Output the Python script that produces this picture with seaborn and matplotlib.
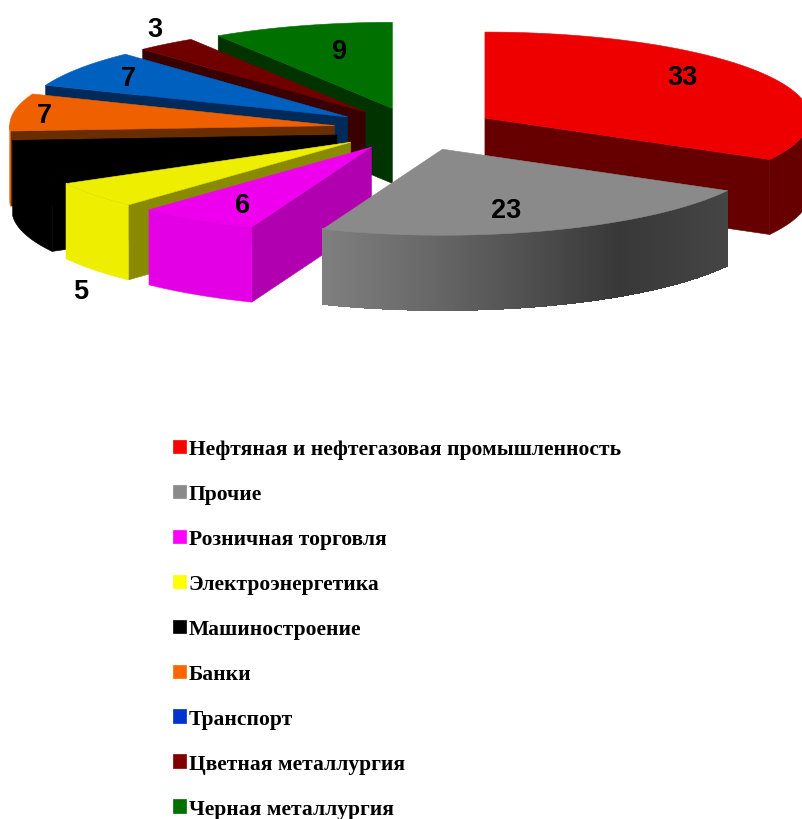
import seaborn as sns
import matplotlib.pyplot as plt
import numpy as np
from matplotlib.patches import Patch, Polygon

labels = ['Нефтяная и нефтегазовая промышленность', 'Прочие', 'Розничная торговля',
          'Электроэнергетика', 'Машиностроение', 'Банки', 'Транспорт',
          'Цветная металлургия', 'Черная металлургия']
values = [33, 23, 6, 5, 7, 7, 7, 3, 9]
top_colors = ['#ee0000', '#8a8a8a', '#ee00ee', '#eeee00', '#000000', '#ee6000', '#0060c0', '#700000', '#007000']
rim_colors = ['#660000', '#666666', '#e400e4', '#eeee00', '#000000', '#e86800', '#002a5a', '#380000', '#003300']
cut_colors = ['#660000', '#666666', '#b000b0', '#8a8a00', '#000000', '#6a2d00', '#002a5a', '#380000', '#003300']
legend_colors = ['#ff0000', '#8a8a8a', '#ff00ff', '#ffff00', '#000000', '#ff6600', '#0033cc', '#800000', '#007000']

# pie geometry, in picture pixels
cx, cy = 415, 130
rx, ry = 325, 86
depth = 75
explode = 0.25

# (x, y) of the number on each slice, black one had no visible label
label_xy = [(682, 78), (506, 211), (243, 206), (81, 292), None, (44, 116), (128, 79), (155, 30), (340, 52)]

sns.set_style('white')
fig = plt.figure(figsize=(8.03, 8.2), dpi=100)
ax = fig.add_axes([0, 0, 1, 1])
ax.set_xlim(0, 803)
ax.set_ylim(820, 0)
ax.axis('off')


def arc(apex, t0, t1, n=80):
    t = np.radians(np.linspace(t0, t1, n))
    return apex[0] + rx * np.sin(t), apex[1] - ry * np.cos(t)


def face(xs, ys, color, z, aa=True):
    ax.add_patch(Polygon(np.column_stack([xs, ys]), closed=True, fc=color, ec=color, lw=0.4, zorder=z, antialiased=aa))


ends = np.cumsum(values) / np.sum(values) * 360
starts = np.r_[0, ends[:-1]]
# painter's order: red at the back, then round the left side to the gray one
order = [0, 8, 7, 6, 5, 4, 3, 2, 1]

for z, i in enumerate(order):
    t0, t1 = starts[i], ends[i]
    mid = np.radians((t0 + t1) / 2)
    apex = (cx + explode * rx * np.sin(mid), cy - explode * ry * np.cos(mid))

    # the cut side that faces the viewer
    if np.sin(np.radians(t0)) < 0:
        ex, ey = arc(apex, t0, t0, 1)
    else:
        ex, ey = arc(apex, t1, t1, 1)
    if np.sin(np.radians(t0)) < 0 or np.sin(np.radians(t1)) > 0:
        face([apex[0], ex[0], ex[0], apex[0]],
             [apex[1], ey[0], ey[0] + depth, apex[1] + depth], cut_colors[i], z * 10)

    # outer rim, only the front half of the ellipse shows
    a, b = max(t0, 90), min(t1, 270)
    if a < b:
        rim_x, rim_y = arc(apex, a, b, 160 if labels[i] == 'Прочие' else 80)
        if labels[i] == 'Прочие':
            shade = np.interp(rim_x, [323, 450, 620, 727], [0.5, 0.39, 0.22, 0.27])
            for k in range(len(rim_x) - 1):
                c = str(shade[k])
                face([rim_x[k], rim_x[k + 1], rim_x[k + 1], rim_x[k]],
                     [rim_y[k], rim_y[k + 1], rim_y[k + 1] + depth, rim_y[k] + depth], c, z * 10 + 1, aa=False)
        else:
            face(np.r_[rim_x, rim_x[::-1]], np.r_[rim_y, rim_y[::-1] + depth], rim_colors[i], z * 10 + 1)

    tx, ty = arc(apex, t0, t1)
    face(np.r_[apex[0], tx], np.r_[apex[1], ty], top_colors[i], z * 10 + 2)

for v, xy in zip(values, label_xy):
    if xy is not None:
        ax.text(xy[0], xy[1], str(v), ha='center', va='center', fontsize=19.5, fontweight='bold',
                family='Liberation Sans', color='black', zorder=200)

handles = [Patch(fc=c, ec=c, lw=0.5) for c in legend_colors]
ax.legend(handles, labels, loc='upper left', bbox_to_anchor=(167 / 803, 1 - 433.5 / 820), frameon=False,
          prop={'family': 'Liberation Serif', 'weight': 'bold', 'size': 15.5}, labelcolor='black',
          handlelength=0.58, handleheight=0.58, handletextpad=0.12, labelspacing=1.16, borderpad=0.3, borderaxespad=0)

fig.savefig('out.png', dpi=100, facecolor='white')
